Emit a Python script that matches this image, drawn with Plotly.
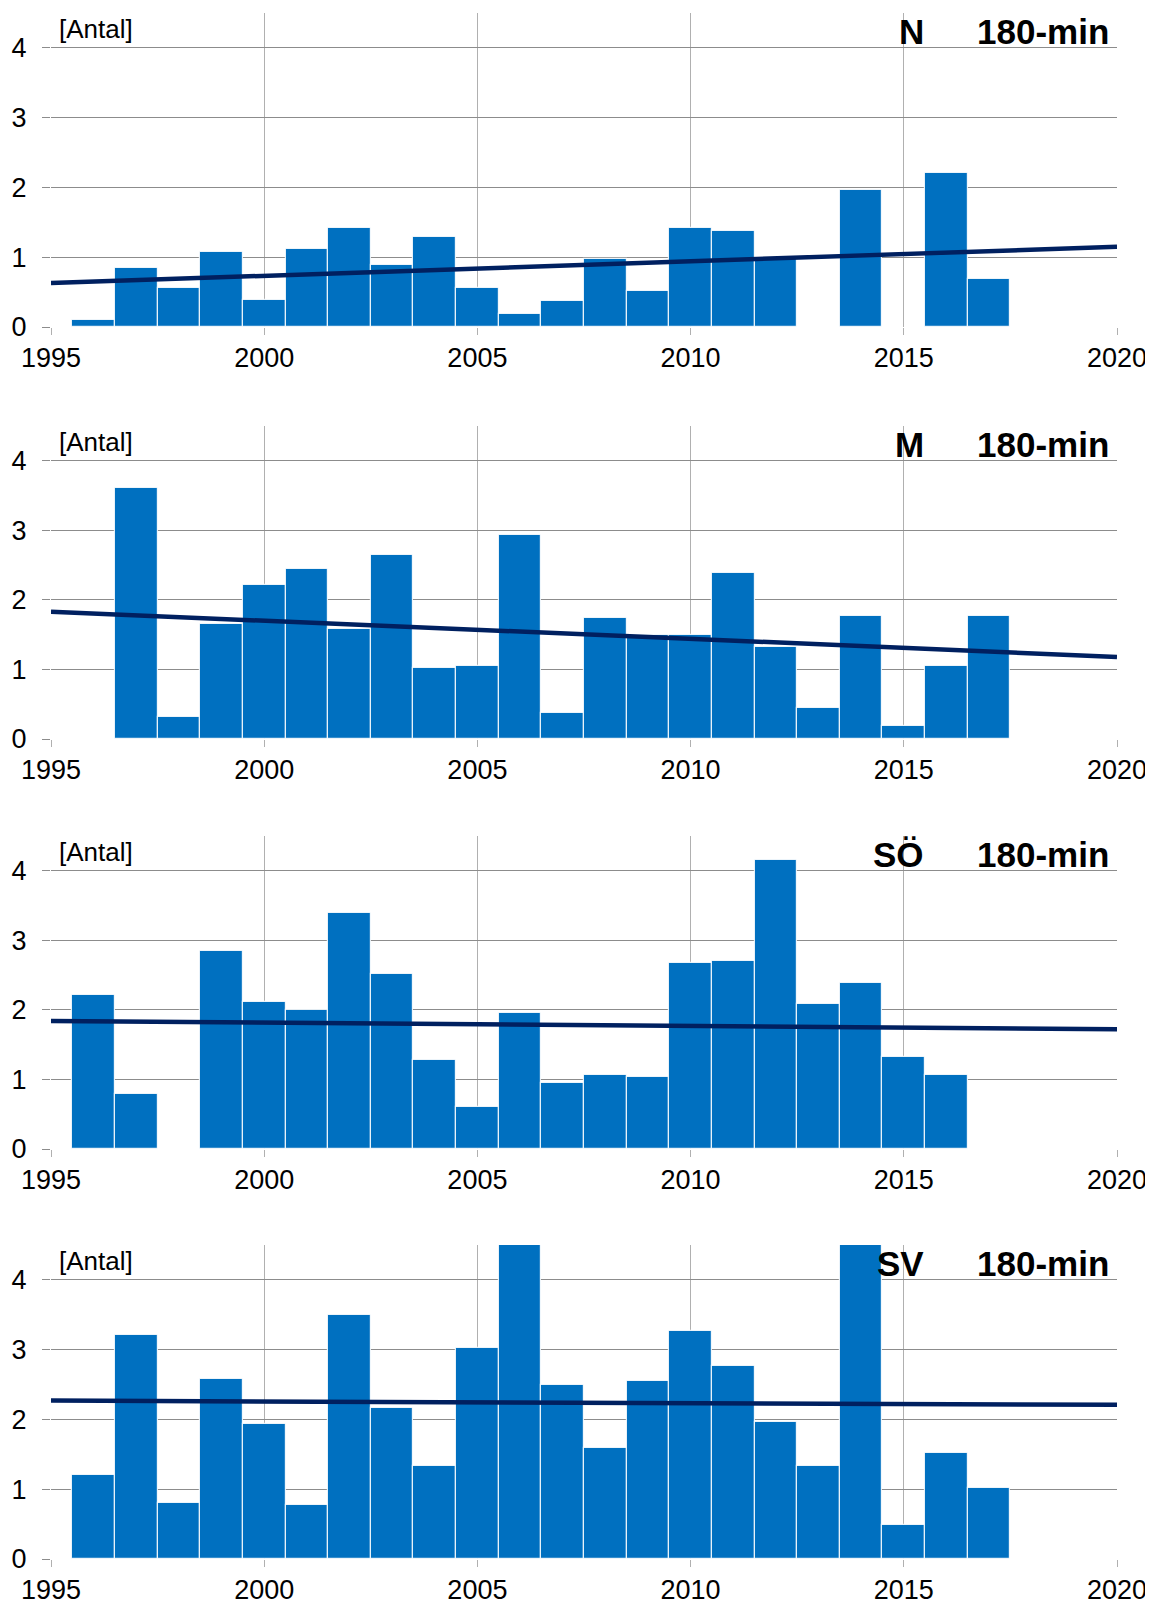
import plotly.graph_objects as go
from plotly.subplots import make_subplots

# Years and yearly counts per region
years = list(range(1996, 2018))

n_counts = [0.10, 0.84, 0.56, 1.07, 0.39, 1.12, 1.42, 0.89, 1.29, 0.56, 0.18,
            0.37, 0.98, 0.52, 1.42, 1.37, 0.98, None, 1.97, None, 2.20, 0.69]
m_counts = [None, 3.61, 0.32, 1.65, 2.22, 2.44, 1.58, 2.65, 1.02, 1.05, 2.93,
            0.38, 1.74, 1.50, 1.50, 2.39, 1.32, 0.44, 1.77, 0.18, 1.05, 1.77]
so_counts = [2.22, 0.79, None, 2.84, 2.12, 2.00, 3.39, 2.51, 1.28, 0.60, 1.96,
             0.95, 1.07, 1.03, 2.67, 2.71, 4.15, 2.08, 2.39, 1.32, 1.07, None]
sv_counts = [1.21, 3.21, 0.80, 2.58, 1.93, 0.78, 3.49, 2.16, 1.33, 3.03, 4.65,
             2.50, 1.59, 2.55, 3.27, 2.77, 1.97, 1.33, 4.70, 0.49, 1.52, 1.02]

# Linear trend lines, value at 1995 and at 2020
trend_years = [1995, 2020]
n_trend = [0.63, 1.15]
m_trend = [1.83, 1.18]
so_trend = [1.84, 1.72]
sv_trend = [2.27, 2.21]

regions = ["N", "M", "SÖ", "SV"]
duration = "180-min"
counts = [n_counts, m_counts, so_counts, sv_counts]
trends = [n_trend, m_trend, so_trend, sv_trend]

W, H = 1153, 1605
# pixel rows of each panel (top, zero line)
panel_px = [(5, 319), (418, 731), (828, 1141), (1237, 1551)]
x_left, x_right = 43, 1109

fig = make_subplots(rows=4, cols=1)

for i in range(4):
    r = i + 1
    fig.add_trace(go.Bar(x=years, y=counts[i], width=1,
                         marker=dict(color="#0070C0",
                                     line=dict(color="rgba(255,255,255,0.85)", width=1.2)),
                         showlegend=False), row=r, col=1)
    fig.add_trace(go.Scatter(x=trend_years, y=trends[i], mode="lines",
                             line=dict(color="#002060", width=4.5),
                             showlegend=False), row=r, col=1)

    top, zero = panel_px[i]
    ax = "" if i == 0 else str(r)
    fig.layout["yaxis" + ax].domain = [1 - zero / H, 1 - top / H]
    fig.layout["xaxis" + ax].domain = [x_left / W, x_right / W]

    xref = "x" + ax + " domain"
    yref = "y" + ax
    fig.add_annotation(text="[Antal]", xref=xref, yref=yref, x=0.006, y=4.27,
                       xanchor="left", yanchor="middle", showarrow=False,
                       font=dict(size=26, color="black", family="Liberation Sans"))
    fig.add_annotation(text="<b>" + regions[i] + "</b>", xref=xref, yref=yref,
                       x=0.821, y=4.24, xanchor="right", yanchor="middle",
                       showarrow=False,
                       font=dict(size=35, color="black", family="Liberation Sans"))
    fig.add_annotation(text="<b>" + duration + "</b>", xref=xref, yref=yref,
                       x=0.994, y=4.24, xanchor="right", yanchor="middle",
                       showarrow=False,
                       font=dict(size=35, color="black", family="Liberation Sans"))

fig.update_xaxes(range=[1995, 2020], tickvals=[1995, 2000, 2005, 2010, 2015, 2020],
                 showgrid=True, gridcolor="#b0b0b0", gridwidth=1,
                 ticks="outside", ticklen=7, tickcolor="#b0b0b0",
                 showline=False, zeroline=False, automargin=False,
                 tickfont=dict(size=27, color="black", family="Liberation Sans"))
fig.update_yaxes(range=[0, 4.5], tickvals=[0, 1, 2, 3, 4],
                 showgrid=True, gridcolor="#8c8c8c", gridwidth=1.3,
                 ticks="outside", ticklen=8, tickcolor="#8c8c8c",
                 showline=False, zeroline=False, ticklabelstandoff=10,
                 automargin=False,
                 tickfont=dict(size=27, color="black", family="Liberation Sans"))

fig.update_layout(width=W, height=H, margin=dict(l=0, r=0, t=0, b=0),
                  plot_bgcolor="white", paper_bgcolor="white", bargap=0)

fig.write_html("out.html")
